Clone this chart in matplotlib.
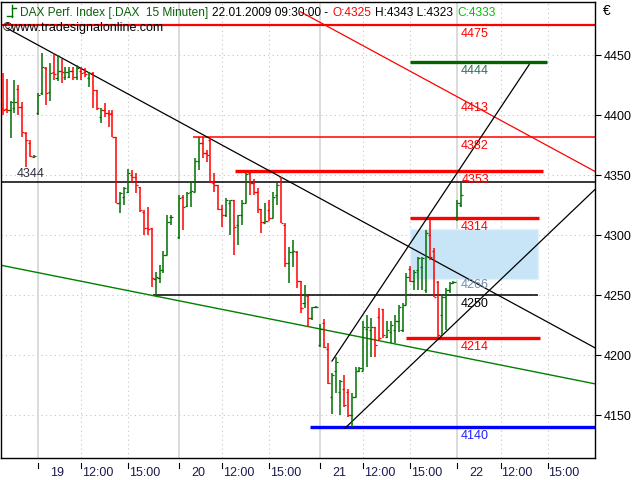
import matplotlib
matplotlib.use('Agg')
import matplotlib.pyplot as plt
from matplotlib.patches import Rectangle

plt.rcParams['font.family'] = ['Liberation Sans', 'DejaVu Sans']

# 15-minute OHLC bars (open, high, low, close) per trading day
bars_jan16 = [
    (4406, 4435, 4400, 4404), (4405, 4430, 4402, 4404), (4404, 4412, 4381, 4411),
    (4406, 4429, 4402, 4411), (4422, 4425, 4400, 4407), (4407, 4411, 4382, 4386),
    (4385, 4386, 4357, 4379), (4377, 4379, 4365, 4366), (4365, 4367, 4364, 4366),
]
bars_jan19 = [
    (4402, 4418, 4400, 4417), (4418, 4452, 4417, 4440), (4439, 4440, 4408, 4418),
    (4419, 4443, 4412, 4435), (4436, 4452, 4429, 4434), (4431, 4450, 4428, 4437),
    (4437, 4447, 4427, 4436), (4432, 4440, 4429, 4436), (4432, 4440, 4431, 4437),
    (4437, 4440, 4429, 4432), (4432, 4442, 4429, 4439), (4437, 4440, 4429, 4435),
    (4436, 4439, 4432, 4434), (4431, 4436, 4423, 4435), (4435, 4436, 4406, 4421),
    (4421, 4421, 4404, 4406), (4398, 4406, 4393, 4404), (4404, 4410, 4398, 4402),
    (4402, 4404, 4390, 4401), (4402, 4404, 4382, 4382), (4382, 4382, 4327, 4327),
    (4327, 4336, 4318, 4335), (4332, 4340, 4325, 4339), (4336, 4355, 4335, 4352),
    (4350, 4354, 4343, 4348), (4348, 4352, 4335, 4342), (4340, 4340, 4319, 4321),
    (4319, 4321, 4300, 4306), (4306, 4323, 4300, 4305), (4306, 4306, 4257, 4264),
    (4263, 4269, 4249, 4265), (4264, 4275, 4260, 4271), (4271, 4287, 4268, 4283),
    (4283, 4317, 4283, 4311), (4315, 4317, 4308, 4315),
]
bars_jan20 = [
    (4298, 4333, 4297, 4331), (4332, 4333, 4304, 4323), (4324, 4336, 4323, 4335),
    (4336, 4344, 4323, 4337), (4336, 4364, 4336, 4362), (4362, 4382, 4354, 4377),
    (4377, 4382, 4364, 4368), (4368, 4371, 4361, 4367), (4379, 4381, 4343, 4344),
    (4343, 4352, 4336, 4342), (4342, 4342, 4321, 4322), (4322, 4325, 4307, 4317),
    (4317, 4331, 4315, 4329), (4327, 4329, 4300, 4329), (4329, 4329, 4283, 4307),
    (4308, 4317, 4292, 4317), (4317, 4329, 4308, 4327), (4327, 4352, 4327, 4351),
    (4352, 4352, 4333, 4343), (4343, 4347, 4333, 4336), (4336, 4339, 4318, 4322),
    (4322, 4322, 4302, 4311), (4310, 4327, 4310, 4312), (4321, 4329, 4312, 4314),
    (4314, 4336, 4314, 4332), (4333, 4343, 4325, 4342), (4348, 4348, 4310, 4310),
    (4308, 4310, 4273, 4277), (4277, 4290, 4260, 4286), (4286, 4296, 4273, 4287),
    (4286, 4287, 4256, 4262), (4262, 4262, 4235, 4239), (4243, 4258, 4239, 4250),
    (4249, 4249, 4223, 4231), (4231, 4240, 4229, 4240), (4240, 4241, 4239, 4240),
]
bars_jan21 = [
    (4208, 4226, 4207, 4222), (4227, 4230, 4206, 4207), (4205, 4210, 4176, 4177),
    (4165, 4185, 4151, 4183), (4187, 4198, 4168, 4194), (4169, 4179, 4150, 4178),
    (4172, 4183, 4157, 4158), (4169, 4172, 4148, 4150), (4150, 4168, 4140, 4165),
    (4165, 4190, 4165, 4187), (4187, 4190, 4186, 4189), (4187, 4228, 4187, 4223),
    (4222, 4233, 4190, 4223), (4221, 4231, 4198, 4223), (4223, 4223, 4198, 4208),
    (4232, 4239, 4212, 4214), (4238, 4238, 4214, 4217), (4215, 4228, 4214, 4221),
    (4219, 4228, 4210, 4225), (4221, 4233, 4210, 4228), (4228, 4242, 4219, 4240),
    (4221, 4243, 4219, 4242), (4242, 4268, 4242, 4265), (4272, 4274, 4261, 4262),
    (4262, 4271, 4254, 4269), (4271, 4282, 4254, 4281), (4273, 4282, 4254, 4281),
    (4254, 4304, 4252, 4302), (4300, 4314, 4279, 4282), (4287, 4289, 4248, 4248),
    (4261, 4262, 4214, 4217), (4233, 4250, 4217, 4248), (4248, 4256, 4221, 4254),
    (4254, 4261, 4252, 4260), (4260, 4262, 4259, 4261),
]
bars_jan22 = [
    (4315, 4329, 4312, 4327), (4325, 4343, 4323, 4333),
]

# first bar slot of each session on the x scale
day_bars = [bars_jan16, bars_jan19, bars_jan20, bars_jan21, bars_jan22]
day_start = [-9, 0, 36, 72, 107]
day_labels = ['19', '20', '21', '22']       # sessions 19..22 get axis labels
time_offsets = [11, 23]                     # 12:00 and 15:00 bars
time_labels = ['12:00', '15:00']

# drawn levels: (price, from slot, to slot, colour, width, label colour)
levels = [
    (4475, -10, 143, '#ff0000', 1.6, '#ff0000'),
    (4444, 94.9, 129.8, '#006400', 2.4, '#2f6f5a'),
    (4382, 39.5, 143, '#ff0000', 1.1, '#ff0000'),
    (4353, 50.3, 128.8, '#ff0000', 2.4, '#ff0000'),
    (4314, 94.9, 127.8, '#ff0000', 2.4, '#ff0000'),
    (4250, 29.3, 127.6, '#000000', 1.1, '#000000'),
    (4214, 93.9, 128.0, '#ff0000', 2.4, '#ff0000'),
    (4140, 69.4, 143, '#0000ff', 2.4, '#2020ff'),
]
label_only = [(4413, '#ff0000'), (4266, '#6f8fae')]
zone = (94.9, 127.6, 4263, 4305)
level_4344 = 4344

# trend lines: ((slot, price), (slot, price), colour, width)
trendlines = [
    ((-7.7, 4472), (142.1, 4206), '#000000', 0.9),
    ((67.0, 4486), (142.1, 4353), '#ff0000', 0.9),
    ((-9.7, 4275), (142.1, 4176), '#008000', 1.0),
    ((75.0, 4195), (125.3, 4442), '#000000', 0.9),
    ((78.3, 4139), (142.1, 4338), '#000000', 0.9),
]

UP = '#007000'
DOWN = '#ff0000'

fig = plt.figure(figsize=(6.4, 4.8), dpi=100)
ax = fig.add_axes([1 / 640, 22 / 480, 594 / 640, 456 / 480])
ax.set_xlim(-9.44, 142.1)
ax.set_ylim(4114.2, 4494.2)

# grid
yticks = list(range(4150, 4451, 50))
for y in yticks:
    ax.axhline(y, color='#c4c4c4', lw=0.8, ls=(0, (1, 3)), zorder=0)
xticks = []
for d in day_start[1:]:
    ax.axvline(d, color='#d4d4d4', lw=1.2, zorder=0)
    xticks.append(d)
    for off in time_offsets:
        ax.axvline(d + off, color='#c4c4c4', lw=0.8, ls=(0, (1, 3)), zorder=0)
        xticks.append(d + off)

# support / resistance zone
ax.add_patch(Rectangle((zone[0], zone[2]), zone[1] - zone[0], zone[3] - zone[2],
                       facecolor='#c8e5f7', edgecolor='#e2f1fb', lw=1, zorder=1))

# OHLC bars
for start, bars in zip(day_start, day_bars):
    for k, (o, h, l, c) in enumerate(bars):
        x = start + k
        col = UP if c >= o else DOWN
        ax.vlines(x, l, h, color=col, lw=1.1, zorder=3)
        ax.hlines(o, x - 0.55, x, color=col, lw=0.9, zorder=3)
        ax.hlines(c, x, x + 0.55, color=col, lw=0.9, zorder=3)

# horizontal levels and their labels
ax.axhline(level_4344, color='#000000', lw=1.1, zorder=2)
ax.annotate(str(level_4344), (-1.8, level_4344), xytext=(0, 8), textcoords='offset pixels',
            ha='center', va='center', fontsize=9, color='#303040')
for price, x0, x1, col, lw, lcol in levels:
    ax.hlines(price, x0, x1, color=col, lw=lw, zorder=2)
    ax.annotate(str(price), (111.5, price), xytext=(0, -9), textcoords='offset pixels',
                ha='center', va='center', fontsize=9, color=lcol, zorder=4)
for price, lcol in label_only:
    ax.annotate(str(price), (111.5, price), xytext=(0, -9), textcoords='offset pixels',
                ha='center', va='center', fontsize=9, color=lcol, zorder=4)

for (xa, ya), (xb, yb), col, lw in trendlines:
    ax.plot([xa, xb], [ya, yb], color=col, lw=lw, zorder=2)

# axes frame and ticks
for s in ax.spines.values():
    s.set_color('black')
    s.set_linewidth(1.0)
ax.yaxis.tick_right()
ax.set_yticks(yticks)
ax.set_yticklabels([str(v) for v in yticks])
ax.tick_params(axis='y', direction='out', length=4, width=0.8, pad=2, labelsize=9,
               colors='black')
ax.set_xticks([])
xtr = ax.get_xaxis_transform()
for i, d in enumerate(day_start[1:]):
    for t in [d] + [d + off for off in time_offsets]:
        ax.plot([t, t], [-0.011, -0.021], color='black', lw=0.8, transform=xtr, clip_on=False)
    ax.text(d + 3.0, -0.033, day_labels[i], transform=xtr, ha='left', va='center',
            fontsize=9, color='#1a1a50')
    for off, lab in zip(time_offsets, time_labels):
        ax.text(d + off + 0.2, -0.033, lab, transform=xtr, ha='left', va='center',
                fontsize=9, color='#1a1a50')

# header
fig.text(603 / 640, 1 - 11 / 480, '€', fontsize=10, ha='left', va='center')
fig.add_artist(plt.Line2D([12 / 640, 12 / 640], [1 - 5 / 480, 1 - 17 / 480], color=UP, lw=1))
fig.add_artist(plt.Line2D([7 / 640, 12 / 640], [1 - 16 / 480, 1 - 16 / 480], color=UP, lw=1))
fig.add_artist(plt.Line2D([12 / 640, 16 / 640], [1 - 8 / 480, 1 - 8 / 480], color=UP, lw=1))
header = [
    ('DAX Perf. Index [.DAX  15 Minuten]', '#0b600b'),
    ('22.01.2009 09:30:00 -', '#000000'),
    ('O:4325', '#ff0000'),
    ('H:4343 L:4323', '#000000'),
    ('C:4333', '#00c000'),
]
renderer = fig.canvas.get_renderer()
xp = 20
for txt, col in header:
    t = fig.text(xp / 640, 1 - 16 / 480, txt, fontsize=8.6, color=col, ha='left', va='baseline')
    xp = t.get_window_extent(renderer).x1 + 4
fig.text(3 / 640, 1 - 28 / 480, '©www.tradesignalonline.com', fontsize=9,
         color='black', ha='left', va='center')

fig.savefig('out.png', dpi=100)
